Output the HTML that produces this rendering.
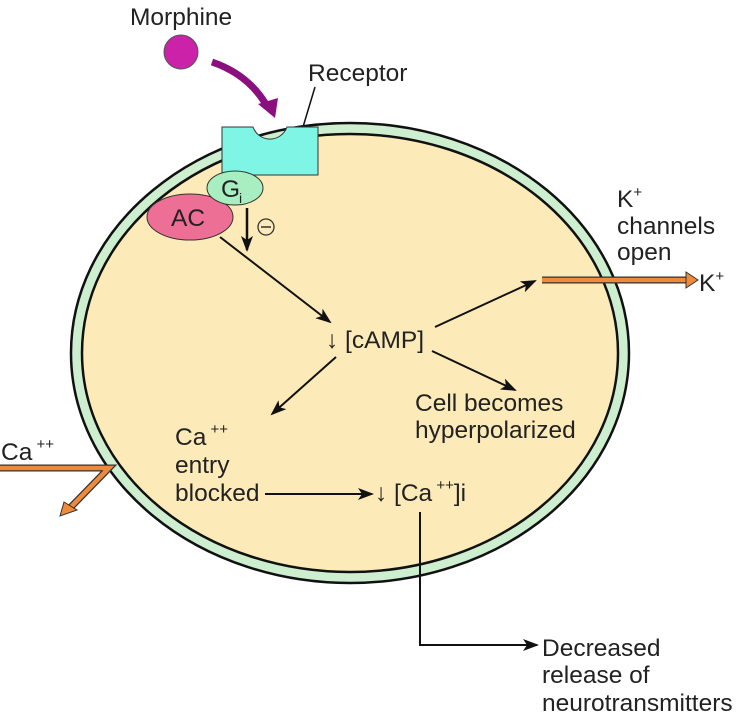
<!DOCTYPE html>
<html><head><meta charset="utf-8"><style>
html,body{margin:0;padding:0;background:#fff}
svg{display:block}
text{font-family:"Liberation Sans",Arial,sans-serif;font-size:24.5px;fill:#222}
.sup{font-size:15px}
</style></head><body>
<svg width="741" height="719" viewBox="0 0 741 719" xmlns="http://www.w3.org/2000/svg">
<defs>
<marker id="ah2" markerWidth="16" markerHeight="12" refX="14" refY="6" orient="auto" markerUnits="userSpaceOnUse">
<path d="M0,0 L16,6 L0,12 L4,6 Z" fill="#111"/></marker>
</defs>
<!-- cell -->
<ellipse cx="350" cy="353" rx="279" ry="230" fill="#cdeecf" stroke="#111" stroke-width="2.5"/>
<ellipse cx="350" cy="353" rx="268" ry="219" fill="#fcebb8" stroke="#111" stroke-width="2.5"/>

<!-- morphine -->
<text x="130" y="25">Morphine</text>
<circle cx="181" cy="52" r="17" fill="#cc22aa" stroke="#555" stroke-width="1"/>
<path d="M212,62 Q250,75 268,108" fill="none" stroke="#8a1080" stroke-width="7"/>
<path d="M258,104 L275,118 L278,98 Z" fill="#8a1080"/>

<!-- receptor -->
<text x="308" y="81">Receptor</text>
<line x1="315" y1="87" x2="303" y2="127" stroke="#111" stroke-width="1.5"/>
<path d="M222,127 L253,127 A18,18 0 0 0 287,127 L318,127 L318,175 L222,175 Z" fill="#7ff5e6" stroke="#333" stroke-width="1"/>

<!-- AC and Gi -->
<ellipse cx="190" cy="217" rx="43" ry="23" fill="#ee6f96" stroke="#333" stroke-width="1"/>
<text x="171" y="226">AC</text>
<ellipse cx="235" cy="188" rx="28" ry="17" fill="#a8eec0" stroke="#333" stroke-width="1"/>
<text x="221" y="197">G</text><text x="239" y="203" style="font-size:14px">i</text>
<line x1="247" y1="208" x2="247" y2="250" stroke="#111" stroke-width="2.5" marker-end="url(#ah2)"/>
<circle cx="266" cy="227" r="8" fill="none" stroke="#333" stroke-width="1.3"/>
<line x1="261" y1="227" x2="271" y2="227" stroke="#333" stroke-width="1.5"/>

<line x1="220" y1="237" x2="330" y2="322" stroke="#111" stroke-width="2" marker-end="url(#ah2)"/>

<!-- cAMP -->
<text x="326" y="348">↓ [cAMP]</text>
<line x1="435" y1="327" x2="535" y2="281" stroke="#111" stroke-width="2" marker-end="url(#ah2)"/>
<line x1="432" y1="351" x2="515" y2="390" stroke="#111" stroke-width="2" marker-end="url(#ah2)"/>
<line x1="336" y1="357" x2="272" y2="414" stroke="#111" stroke-width="2" marker-end="url(#ah2)"/>

<!-- K+ -->
<line x1="542" y1="280" x2="688" y2="280" stroke="#333" stroke-width="7"/>
<line x1="542" y1="280" x2="688" y2="280" stroke="#ef8a3a" stroke-width="4.5"/>
<path d="M686,272 L698,280 L686,288 Z" fill="#ef8a3a" stroke="#333" stroke-width="1"/>
<text x="699" y="291">K<tspan class="sup" dy="-10">+</tspan></text>
<text x="617" y="207">K<tspan class="sup" dy="-10">+</tspan></text>
<text x="617" y="234">channels</text>
<text x="617" y="260">open</text>

<text x="415" y="411">Cell becomes</text>
<text x="415" y="438">hyperpolarized</text>

<!-- Ca entry -->
<text x="175" y="445">Ca<tspan class="sup" dy="-11"> ++</tspan></text>
<text x="175" y="473">entry</text>
<text x="175" y="501">blocked</text>
<line x1="265" y1="494" x2="372" y2="494" stroke="#111" stroke-width="2" marker-end="url(#ah2)"/>
<text x="375" y="501">↓ [Ca<tspan class="sup" dy="-11"> ++</tspan><tspan dy="11">]i</tspan></text>

<line x1="420" y1="512" x2="420" y2="645" stroke="#111" stroke-width="2"/>
<line x1="419" y1="645" x2="537" y2="645" stroke="#111" stroke-width="2" marker-end="url(#ah2)"/>
<text x="542" y="656">Decreased</text>
<text x="542" y="683">release of</text>
<text x="542" y="711">neurotransmitters</text>

<!-- Ca left -->
<text x="1" y="460">Ca<tspan class="sup" dy="-11"> ++</tspan></text>
<path d="M0,468 L109,468 L70,508" fill="none" stroke="#333" stroke-width="7" stroke-linejoin="miter"/>
<path d="M0,468 L109,468 L70,508" fill="none" stroke="#ef8a3a" stroke-width="4.5" stroke-linejoin="miter"/>
<path d="M64,502 L77,510 L60,516 Z" fill="#ef8a3a" stroke="#333" stroke-width="1"/>
</svg>
</body></html>
